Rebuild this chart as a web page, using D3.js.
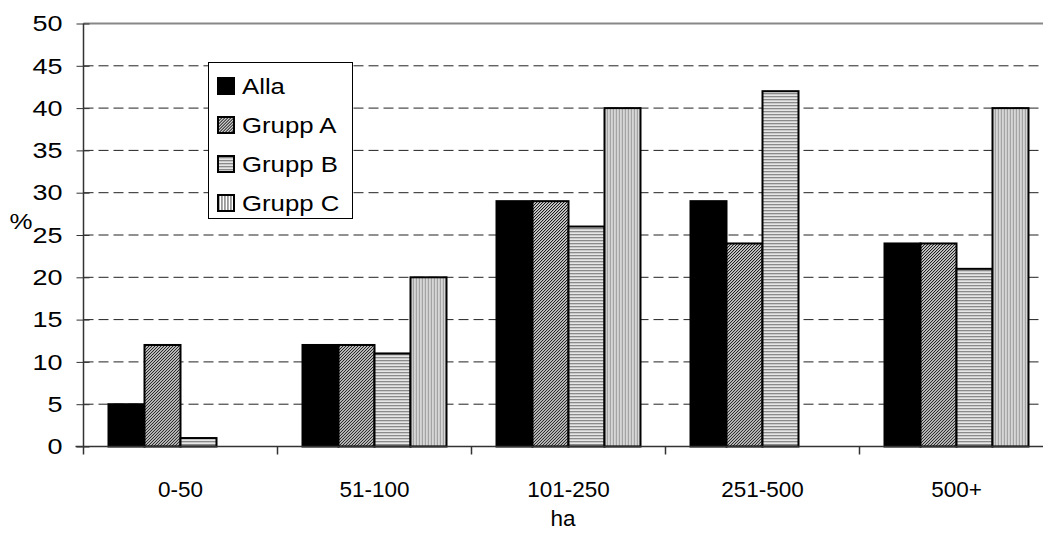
<!DOCTYPE html>
<html><head><meta charset="utf-8">
<script src="https://cdn.jsdelivr.net/npm/d3@7"></script>
<style>
html,body{margin:0;padding:0;background:#fff;}
svg{display:block;font-family:"Liberation Sans",Arial,sans-serif;}
</style></head>
<body>
<svg id="chart" width="1043" height="542"></svg>
<script>
const categories = ["0-50", "51-100", "101-250", "251-500", "500+"];
const seriesNames = ["Alla", "Grupp A", "Grupp B", "Grupp C"];
const alla   = [5, 12, 29, 29, 24];
const gruppA = [12, 12, 29, 24, 24];
const gruppB = [1, 11, 26, 42, 21];
const gruppC = [0, 20, 40, 0, 40];
const yTicks = [0, 5, 10, 15, 20, 25, 30, 35, 40, 45, 50];

const seriesValues = [alla, gruppA, gruppB, gruppC];
const fills = ["#000", "url(#patA)", "url(#patB)", "url(#patC)"];

const svg = d3.select("#chart");
const plotLeft = 83.5, plotTop = 23.5, plotBottom = 446.5, catW = 194;
const x = d3.scaleBand().domain(categories).range([plotLeft, plotLeft + catW * categories.length]).padding(0);
const xs = d3.scaleBand().domain(seriesNames).range([25, catW - 25]).padding(0);
const y = d3.scaleLinear().domain([0, 50]).range([plotBottom, plotTop]);
const FS = 22.5;

// patterns
const defs = svg.append("defs");
const pA = defs.append("pattern").attr("id", "patA").attr("patternUnits", "userSpaceOnUse")
  .attr("width", 2.12).attr("height", 2.12).attr("patternTransform", "rotate(45)");
pA.append("rect").attr("width", 2.12).attr("height", 2.12).attr("fill", "#fff");
pA.append("rect").attr("width", 1.0).attr("height", 2.12).attr("fill", "#000");
const pB = defs.append("pattern").attr("id", "patB").attr("patternUnits", "userSpaceOnUse")
  .attr("width", 3).attr("height", 3);
pB.append("rect").attr("width", 3).attr("height", 3).attr("fill", "#e6e6e6");
pB.append("rect").attr("width", 3).attr("height", 1.3).attr("fill", "#8a8a8a");
const pC = defs.append("pattern").attr("id", "patC").attr("patternUnits", "userSpaceOnUse")
  .attr("width", 3).attr("height", 3);
pC.append("rect").attr("width", 3).attr("height", 3).attr("fill", "#fff");
pC.append("rect").attr("width", 1.8).attr("height", 3).attr("fill", "#999");

// gridlines
svg.append("g").selectAll("line").data(yTicks.filter(d => d > 0 && d < 50)).join("line")
  .attr("x1", plotLeft).attr("x2", 1043).attr("y1", d => y(d)).attr("y2", d => y(d))
  .attr("stroke", "#222").attr("stroke-width", 1).attr("stroke-dasharray", "10,5");
svg.append("line").attr("x1", plotLeft).attr("x2", 1043).attr("y1", y(50)).attr("y2", y(50))
  .attr("stroke", "#888").attr("stroke-width", 2);

// bars
const gCat = svg.append("g").selectAll("g").data(categories).join("g")
  .attr("transform", d => `translate(${x(d)},0)`);
gCat.selectAll("rect").data((c, i) => seriesNames.map((s, k) => ({s, k, v: seriesValues[k][i]})).filter(d => d.v > 0))
  .join("rect")
  .attr("x", d => xs(d.s)).attr("width", xs.bandwidth())
  .attr("y", d => y(d.v)).attr("height", d => y(0) - y(d.v))
  .attr("fill", d => fills[d.k]).attr("stroke", "#000").attr("stroke-width", 2);

// y axis
const sY = 1.2;
const yAxis = d3.axisLeft(y).tickValues(yTicks).tickSize(7).tickPadding(14);
const gy = svg.append("g").attr("transform", `translate(${plotLeft},0)`).call(yAxis);
gy.select(".domain").remove();
gy.selectAll(".tick line").attr("stroke", "#333").attr("x2", -7).attr("x1", 6);
gy.selectAll(".tick text").attr("font-size", FS).attr("fill", "#000")
  .attr("font-family", "Liberation Sans, Arial, sans-serif")
  .attr("x", -21 / sY).attr("transform", `scale(${sY},1)`);
svg.append("line").attr("x1", plotLeft).attr("x2", plotLeft).attr("y1", plotTop).attr("y2", plotBottom + 8)
  .attr("stroke", "#333").attr("stroke-width", 1.5);

// x axis
const xAxis = d3.axisBottom(x).tickSize(0).tickPadding(35);
const gx = svg.append("g").attr("transform", `translate(0,${plotBottom})`).call(xAxis);
gx.select(".domain").remove();
gx.selectAll(".tick text").attr("font-size", FS).attr("fill", "#000")
  .attr("font-family", "Liberation Sans, Arial, sans-serif");
svg.append("line").attr("x1", plotLeft - 8).attr("x2", 1043).attr("y1", plotBottom).attr("y2", plotBottom)
  .attr("stroke", "#333").attr("stroke-width", 1.5);
svg.append("g").selectAll("line").data(categories.slice(1)).join("line")
  .attr("x1", d => x(d)).attr("x2", d => x(d)).attr("y1", plotBottom).attr("y2", plotBottom + 8)
  .attr("stroke", "#333").attr("stroke-width", 1.5);

// axis titles
svg.append("text").attr("transform", `translate(21,229) scale(1.15,1)`).attr("text-anchor", "middle")
  .attr("font-size", FS).text("%");
svg.append("text").attr("transform", `translate(563,526)`).attr("text-anchor", "middle")
  .attr("font-size", FS).text("ha");

// legend
const sL = 1.12;
const lg = svg.append("g");
lg.append("rect").attr("x", 208.5).attr("y", 62.5).attr("width", 144).attr("height", 156)
  .attr("fill", "#fff").attr("stroke", "#000").attr("stroke-width", 1);
const li = lg.selectAll("g").data(seriesNames).join("g")
  .attr("transform", (d, i) => `translate(218,${85 + i * 39})`);
li.append("rect").attr("x", 0).attr("y", -7).attr("width", 16).attr("height", 16)
  .attr("fill", (d, i) => fills[i]).attr("stroke", "#000").attr("stroke-width", 2);
li.append("text").attr("transform", `translate(24,9) scale(${sL},1)`).attr("font-size", FS + 0.5).text(d => d);
</script>
</body></html>
